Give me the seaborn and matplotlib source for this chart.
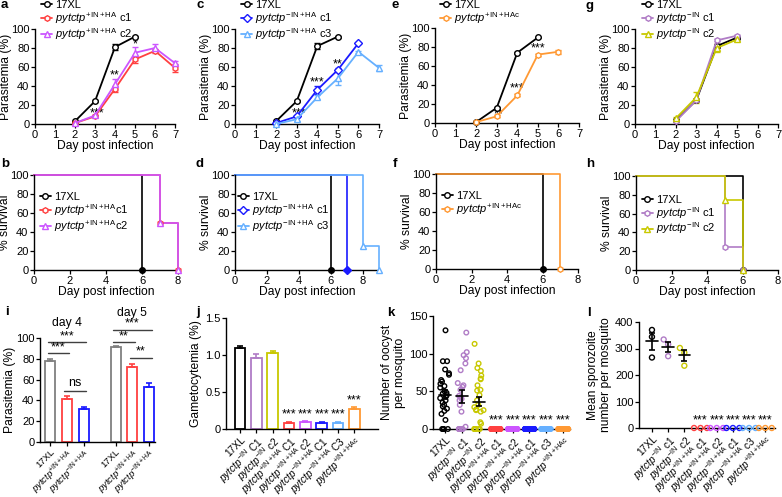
import numpy as np
import pandas as pd
import matplotlib
matplotlib.use("Agg")
import matplotlib.pyplot as plt
from matplotlib.lines import Line2D
import seaborn as sns

# ---------------- data ----------------
# a: parasitemia, 17XL vs pytctp+IN+HA clones
a_days_wt = [2, 3, 4, 5]
a_wt = [3, 24, 81, 92]
a_wt_err = [0.5, 1, 3, 1]
a_days = [2, 3, 4, 5, 6, 7]
a_c1 = [1, 8, 37, 68, 77, 59]
a_c1_err = [0.5, 1, 3, 4, 2, 4]
a_c2 = [1, 9, 42, 75, 80, 64]
a_c2_err = [0.5, 1, 5, 6, 4, 2]
# c: 17XL vs pytctp-IN+HA clones
c_days_wt = [2, 3, 4, 5]
c_wt = [3, 24, 82, 92]
c_wt_err = [0.5, 1, 3, 1]
c_days_c1 = [2, 3, 4, 5, 6]
c_c1 = [1, 8, 36, 57, 85]
c_c1_err = [0.5, 1, 4, 2, 1]
c_days_c3 = [2, 3, 4, 5, 6, 7]
c_c3 = [0, 5, 28, 48, 76, 59]
c_c3_err = [0.5, 2, 2, 7, 1, 3]
# e: 17XL vs pytctp+IN+HAc
e_days_wt = [2, 3, 4, 5]
e_wt = [1, 16, 74, 90]
e_wt_err = [0.3, 1, 1, 1]
e_days_hac = [2, 3, 4, 5, 6]
e_hac = [1, 7, 29, 72, 75]
e_hac_err = [0.3, 1, 1, 1, 2]
# g: 17XL vs pytctp-IN clones
g_days = [2, 3, 4, 5]
g_wt = [4, 25, 82, 91]
g_wt_err = [0.5, 1, 2, 1]
g_c1 = [3, 25, 88, 93]
g_c1_err = [0.5, 1, 1, 1]
g_c2 = [6, 28, 80, 89]
g_c2_err = [1, 6, 4, 2]

# survival curves (day, % survival)
b_wt_t, b_wt_s = [0, 6], [100, 0]
b_c1_t, b_c1_s = [0, 7, 8], [100, 50, 0]
b_c2_t, b_c2_s = [0, 7, 8], [100, 50, 0]
d_wt_t, d_wt_s = [0, 6], [100, 0]
d_c1_t, d_c1_s = [0, 7], [100, 0]
d_c3_t, d_c3_s = [0, 8, 9], [100, 25, 0]
f_wt_t, f_wt_s = [0, 6], [100, 0]
f_hac_t, f_hac_s = [0, 7], [100, 0]
h_wt_t, h_wt_s = [0, 6], [100, 0]
h_c1_t, h_c1_s = [0, 5, 6], [100, 25, 0]
h_c2_t, h_c2_s = [0, 5, 6], [100, 75, 0]

# i: parasitemia day 4 / day 5
i_groups = ["17XL", "+IN+HA", "-IN+HA", "17XL", "+IN+HA", "-IN+HA"]
i_pos = [0, 1, 2, 3.9, 4.9, 5.9]
i_vals = [78, 41, 32, 91, 72, 53]
i_err = [2, 3, 2, 1, 3, 4]

# j: gametocytemia
strains = ["17XL", "-IN c1", "-IN c2", "+IN+HA c1", "+IN+HA c2",
           "-IN+HA c1", "-IN+HA c3", "+IN+HAc"]
j_vals = [1.10, 0.96, 1.03, 0.08, 0.09, 0.08, 0.08, 0.27]
j_err = [0.02, 0.05, 0.03, 0.02, 0.02, 0.02, 0.02, 0.03]

# k: oocysts per mosquito
k_wt = [131, 90, 90, 79, 74, 72, 65, 63, 60, 57, 55, 50, 48, 47, 45, 43, 41,
        38, 35, 32, 30, 27, 24, 20, 12, 0, 0, 0, 0]
k_in_c1 = [128, 102, 98, 94, 87, 78, 61, 58, 56, 52, 44, 42, 40, 38, 32, 23,
           3, 0, 0, 0, 0, 0, 0, 0]
k_in_c2 = [113, 87, 81, 77, 71, 67, 66, 58, 52, 51, 45, 38, 32, 29, 26, 25,
           25, 23, 9, 7, 0, 0, 0, 0, 0, 0, 0]
k_zero = [0] * 40

# l: sporozoites per mosquito
l_wt = [370, 344, 266]
l_in_c1 = [334, 316, 271]
l_in_c2 = [302, 284, 235]
l_zero = [0, 0, 0]

# ---------------- style ----------------
sns.set_theme(style="ticks")
plt.rcParams["font.family"] = ["Liberation Sans", "DejaVu Sans"]
plt.rcParams["mathtext.fontset"] = "custom"
plt.rcParams["mathtext.rm"] = "Liberation Sans"
plt.rcParams["mathtext.it"] = "Liberation Sans:italic"
plt.rcParams["mathtext.bf"] = "Liberation Sans:bold"
for key in ["axes.edgecolor", "xtick.color", "ytick.color",
            "axes.labelcolor", "text.color"]:
    plt.rcParams[key] = "black"

FS_TICK = 8
FS_LABEL = 8.7
FS_LEG = 8
FS_CAT = 7.3
FS_CAT_I = 6.8
FS_STAR = 9

BLACK = "#000000"
RED = "#FF4040"
VIOLET = "#CC55FF"
BLUE = "#1A1AFF"
LBLUE = "#66B0FF"
ORANGE = "#FF9933"
MAUVE = "#B07CC6"
YELLOW = "#C8C800"
GRAY = "#808080"

strain_colors = [BLACK, MAUVE, YELLOW, RED, VIOLET, BLUE, LBLUE, ORANGE]


def lab(sup, suffix=""):
    return r"$\mathit{pytctp}^{\mathrm{" + sup + "}}$" + suffix


W, H = 782, 497
fig = plt.figure(figsize=(W / 100, H / 100), dpi=100)


def px_axes(l, t, r, b):
    return fig.add_axes([l / W, 1 - b / H, (r - l) / W, (b - t) / H])


def finish(ax):
    sns.despine(ax=ax)
    for sp in ["left", "bottom"]:
        ax.spines[sp].set_linewidth(1.0)
        ax.spines[sp].set_color("black")
    ax.tick_params(length=3, width=0.9, pad=1, labelsize=FS_TICK)


def growth_series(ax, days, vals, errs, color, marker):
    ax.errorbar(days, vals, yerr=errs, fmt="none", ecolor=color, elinewidth=1,
                capsize=2, capthick=1, zorder=3, clip_on=False)
    sns.lineplot(x=days, y=vals, ax=ax, color=color, marker=marker,
                 markersize=4, markerfacecolor="white", markeredgecolor=color,
                 markeredgewidth=1, linewidth=1.3, zorder=4, clip_on=False)


def growth_axes(ax):
    ax.set_xlim(0, 7)
    ax.set_ylim(0, 100)
    ax.set_xticks(range(8))
    ax.set_yticks([0, 20, 40, 60, 80, 100])
    ax.set_xlabel("Day post infection", labelpad=0, fontsize=FS_LABEL)
    ax.set_ylabel("Parasitemia (%)", labelpad=-0.5, fontsize=FS_LABEL)
    finish(ax)


def surv_series(ax, t, s, color, marker, mfc="white"):
    sns.lineplot(x=t, y=s, ax=ax, color=color, drawstyle="steps-post",
                 linewidth=1.2, clip_on=False)
    ax.plot(t[1:], s[1:], linestyle="none", marker=marker, ms=4, mfc=mfc,
            mec=color, mew=1, clip_on=False, zorder=5)


def surv_axes(ax, xmax):
    ax.set_xlim(0, xmax)
    ax.set_ylim(0, 100)
    ax.set_xticks([0, 2, 4, 6, 8])
    ax.set_yticks([0, 20, 40, 60, 80, 100])
    ax.set_xlabel("Day post infection", labelpad=0, fontsize=FS_LABEL)
    ax.set_ylabel("% survival", labelpad=-0.5, fontsize=FS_LABEL)
    finish(ax)


def handle(color, marker):
    return Line2D([], [], color=color, marker=marker, ms=4, mfc="white",
                  mec=color, mew=1, lw=1.3)


LEG_KW = dict(frameon=False, fontsize=FS_LEG, handlelength=1.0,
              handletextpad=0.3, labelspacing=0.0, borderpad=0,
              borderaxespad=0)


def fig_legend(handles, labels, x, y):
    fig.legend(handles, labels, loc="upper left",
               bbox_to_anchor=(x / W, 1 - y / H), **LEG_KW)


def stars(ax, x, y, s):
    ax.text(x, y, s, ha="center", va="center", fontsize=FS_STAR,
            clip_on=False)


# ---------------- a ----------------
ax = px_axes(35, 29, 175, 124)
growth_series(ax, a_days_wt, a_wt, a_wt_err, BLACK, "o")
growth_series(ax, a_days, a_c1, a_c1_err, RED, "h")
growth_series(ax, a_days, a_c2, a_c2_err, VIOLET, "^")
stars(ax, 3.1, 11, "***")
stars(ax, 4.0, 51, "**")
stars(ax, 5.0, 84, "*")
growth_axes(ax)
fig_legend([handle(BLACK, "o"), handle(RED, "h"), handle(VIOLET, "^")],
           ["17XL", lab("+IN+HA", " c1"), lab("+IN+HA", " c2")], 41, 0)

# ---------------- c ----------------
ax = px_axes(235, 29, 379, 124)
growth_series(ax, c_days_wt, c_wt, c_wt_err, BLACK, "o")
growth_series(ax, c_days_c1, c_c1, c_c1_err, BLUE, "D")
growth_series(ax, c_days_c3, c_c3, c_c3_err, LBLUE, "^")
stars(ax, 3.1, 11, "***")
stars(ax, 4.0, 44, "***")
stars(ax, 5.0, 63, "**")
growth_axes(ax)
fig_legend([handle(BLACK, "o"), handle(BLUE, "D"), handle(LBLUE, "^")],
           ["17XL", lab("-IN+HA", " c1"), lab("-IN+HA", " c3")], 241, 0)

# ---------------- e ----------------
ax = px_axes(435, 28, 579, 123)
growth_series(ax, e_days_wt, e_wt, e_wt_err, BLACK, "o")
growth_series(ax, e_days_hac, e_hac, e_hac_err, ORANGE, "h")
stars(ax, 3.1, 9, "**")
stars(ax, 4.0, 36, "***")
stars(ax, 5.0, 79, "***")
growth_axes(ax)
fig_legend([handle(BLACK, "o"), handle(ORANGE, "h")],
           ["17XL", lab("+IN+HAc")], 440, 0)

# ---------------- g ----------------
ax = px_axes(635, 29, 778, 124)
growth_series(ax, g_days, g_wt, g_wt_err, BLACK, "o")
growth_series(ax, g_days, g_c1, g_c1_err, MAUVE, "h")
growth_series(ax, g_days, g_c2, g_c2_err, YELLOW, "^")
growth_axes(ax)
fig_legend([handle(BLACK, "o"), handle(MAUVE, "h"), handle(YELLOW, "^")],
           ["17XL", lab("-IN", " c1"), lab("-IN", " c2")], 642, 0)

# ---------------- b ----------------
ax = px_axes(34, 175, 178, 270)
surv_series(ax, b_wt_t, b_wt_s, BLACK, "o", BLACK)
surv_series(ax, b_c1_t, b_c1_s, RED, "h")
surv_series(ax, b_c2_t, b_c2_s, VIOLET, "^")
surv_axes(ax, 8)
ax.legend([handle(BLACK, "o"), handle(RED, "h"), handle(VIOLET, "^")],
          ["17XL", lab("+IN+HA", "c1"), lab("+IN+HA", "c2")],
          loc="upper left", bbox_to_anchor=(0.04, 0.82), **LEG_KW)

# ---------------- d ----------------
ax = px_axes(235, 175, 379, 270)
surv_series(ax, d_wt_t, d_wt_s, BLACK, "o", BLACK)
surv_series(ax, d_c1_t, d_c1_s, BLUE, "D", BLUE)
surv_series(ax, d_c3_t, d_c3_s, LBLUE, "^")
surv_axes(ax, 9)
ax.legend([handle(BLACK, "o"), handle(BLUE, "D"), handle(LBLUE, "^")],
          ["17XL", lab("-IN+HA", " c1"), lab("-IN+HA", " c3")],
          loc="upper left", bbox_to_anchor=(0.02, 0.82), **LEG_KW)

# ---------------- f ----------------
ax = px_axes(436, 174, 578, 269)
surv_series(ax, f_wt_t, f_wt_s, BLACK, "o", BLACK)
surv_series(ax, f_hac_t, f_hac_s, ORANGE, "h")
surv_axes(ax, 8)
ax.legend([handle(BLACK, "o"), handle(ORANGE, "h")],
          ["17XL", lab("+IN+HAc")],
          loc="upper left", bbox_to_anchor=(0.04, 0.82), **LEG_KW)

# ---------------- h ----------------
ax = px_axes(636, 176, 778, 270)
surv_series(ax, h_wt_t, h_wt_s, BLACK, "o", BLACK)
surv_series(ax, h_c1_t, h_c1_s, MAUVE, "h")
surv_series(ax, h_c2_t, h_c2_s, YELLOW, "^")
surv_axes(ax, 8)
ax.legend([handle(BLACK, "o"), handle(MAUVE, "h"), handle(YELLOW, "^")],
          ["17XL", lab("-IN", " c1"), lab("-IN", " c2")],
          loc="upper left", bbox_to_anchor=(0.04, 0.8), **LEG_KW)

# ---------------- i ----------------
ax = px_axes(40, 338, 155, 442)
i_palette = {"17XL": GRAY, "+IN+HA": RED, "-IN+HA": BLUE}
sns.barplot(x=i_pos, y=i_vals, hue=i_groups, palette=i_palette,
            native_scale=True, fill=False, width=0.6, errorbar=None,
            legend=False, ax=ax)
for p in ax.patches:
    p.set_linewidth(1.3)
for xp, v, e, g in zip(i_pos, i_vals, i_err, i_groups):
    ax.errorbar([xp], [v], yerr=[[0], [e]], fmt="none", ecolor=i_palette[g],
                elinewidth=1.2, capsize=2.5, capthick=1.2)
sig_lines = [(0, 1, 85.5, "***"), (0, 2, 96, "***"), (1, 2, 49, "ns"),
             (3.9, 4.9, 96, "**"), (3.9, 5.9, 108, "***"),
             (4.9, 5.9, 81, "**")]
for x1, x2, yv, s in sig_lines:
    ax.plot([x1 - 0.15, x2 + 0.15], [yv, yv], color="#404040", lw=1,
            clip_on=False)
    ax.text((x1 + x2) / 2, yv + (1.5 if s == "ns" else 0.0), s, ha="center",
            va="bottom", fontsize=FS_STAR, clip_on=False)
ax.text(1, 114, "day 4", ha="center", va="center", fontsize=FS_LABEL)
ax.text(4.9, 124, "day 5", ha="center", va="center", fontsize=FS_LABEL)
ax.set_xlim(-0.6, 6.25)
ax.set_ylim(0, 100)
ax.set_yticks([0, 20, 40, 60, 80, 100])
ax.set_xticks(i_pos)
ax.set_xticklabels(["17XL", lab("+IN+HA"), lab("-IN+HA")] * 2, rotation=45,
                   ha="right", rotation_mode="anchor")
ax.set_xlabel("")
ax.set_ylabel("Parasitemia (%)", labelpad=0, fontsize=FS_LABEL)
finish(ax)
ax.tick_params(axis="x", labelsize=FS_CAT_I)

# ---------------- j ----------------
ax = px_axes(226, 318, 378, 429)
sns.barplot(x=strains, y=j_vals, hue=strains, palette=strain_colors,
            order=strains, hue_order=strains, fill=False, width=0.65,
            errorbar=None, legend=False, ax=ax)
for p in ax.patches:
    p.set_linewidth(1.3)
for k_, (v, e) in enumerate(zip(j_vals, j_err)):
    ax.errorbar([k_], [v], yerr=[[0], [e]], fmt="none",
                ecolor=strain_colors[k_], elinewidth=1.2, capsize=2.5,
                capthick=1.2)
    if k_ >= 3:
        ax.text(k_, v + e + 0.01, "***", ha="center", va="bottom",
                fontsize=FS_STAR)
ax.set_xlim(-0.85, 8.45)
ax.set_ylim(0, 1.5)
ax.set_yticks([0, 0.5, 1.0, 1.5])
ax.set_yticklabels(["0", "0.5", "1.0", "1.5"])
ax.set_xticks(range(8))
ax.set_xticklabels(["17XL", lab("-IN", " C1"), lab("-IN", " c2"),
                    lab("+IN+HA", " C1"), lab("+IN+HA", " c2"),
                    lab("-IN+HA", " C1"), lab("-IN+HA", " C3"),
                    lab("+IN+HAc")], rotation=45, ha="right",
                   rotation_mode="anchor")
ax.set_xlabel("")
ax.set_ylabel("Gametocytemia (%)", labelpad=2, fontsize=FS_LABEL)
finish(ax)
ax.tick_params(axis="x", labelsize=FS_CAT)

strain_ticklabels = ["17XL", lab("-IN", " c1"), lab("-IN", " c2"),
                     lab("+IN+HA", " c1"), lab("+IN+HA", " c2"),
                     lab("-IN+HA", " c1"), lab("-IN+HA", " c3"),
                     lab("+IN+HAc")]

# ---------------- k ----------------
ax = px_axes(433, 316, 570, 429)
k_lists = [k_wt, k_in_c1, k_in_c2, k_zero, k_zero, k_zero, k_zero, k_zero]
k_df = pd.DataFrame({
    "strain": [s for s, vals in zip(strains, k_lists) for _ in vals],
    "n": [v for vals in k_lists for v in vals],
})
np.random.seed(3)
sns.stripplot(data=k_df, x="strain", y="n", hue="strain", order=strains,
              hue_order=strains, palette=strain_colors, jitter=0.3, size=3.3,
              legend=False, ax=ax, zorder=3)
for coll in ax.collections:
    fc = coll.get_facecolors()
    coll.set_edgecolors(fc)
    coll.set_facecolors("none")
    coll.set_linewidth(1.0)
    coll.set_clip_on(False)
for k_, vals in enumerate(k_lists[:3]):
    m = np.mean(vals)
    se = np.std(vals, ddof=1) / np.sqrt(len(vals))
    ax.plot([k_ - 0.35, k_ + 0.35], [m, m], color="black", lw=1.2, zorder=4)
    ax.errorbar([k_], [m], yerr=[se], fmt="none", ecolor="black",
                elinewidth=1.2, capsize=2.5, capthick=1.2, zorder=4)
for k_ in range(3, 8):
    stars(ax, k_, 12, "***")
ax.set_xlim(-0.71, 7.4)
ax.set_ylim(0, 150)
ax.set_yticks([0, 50, 100, 150])
ax.set_xticks(range(8))
ax.set_xticklabels(strain_ticklabels, rotation=45, ha="right",
                   rotation_mode="anchor")
ax.set_xlabel("")
ax.set_ylabel("Number of oocyst\nper mosquito", labelpad=2, linespacing=1.1,
              fontsize=FS_LABEL)
finish(ax)
ax.tick_params(axis="x", labelsize=FS_CAT)

# ---------------- l ----------------
ax = px_axes(639, 322, 775, 428)
l_lists = [l_wt, l_in_c1, l_in_c2, l_zero, l_zero, l_zero, l_zero, l_zero]
l_df = pd.DataFrame({
    "strain": [s for s, vals in zip(strains, l_lists) for _ in vals],
    "n": [v for vals in l_lists for v in vals],
})
sns.swarmplot(data=l_df, x="strain", y="n", hue="strain", order=strains,
              hue_order=strains, palette=strain_colors, size=3.6,
              legend=False, ax=ax, zorder=3)
for coll in ax.collections:
    fc = coll.get_facecolors()
    coll.set_edgecolors(fc)
    coll.set_facecolors("none")
    coll.set_linewidth(1.0)
    coll.set_clip_on(False)
for k_, vals in enumerate(l_lists[:3]):
    m = np.mean(vals)
    se = np.std(vals, ddof=1) / np.sqrt(len(vals))
    ax.plot([k_ - 0.35, k_ + 0.35], [m, m], color="black", lw=1.2, zorder=4)
    ax.errorbar([k_], [m], yerr=[se], fmt="none", ecolor="black",
                elinewidth=1.2, capsize=2.5, capthick=1.2, zorder=4)
for k_ in range(3, 8):
    stars(ax, k_, 28, "***")
ax.set_xlim(-0.8, 7.6)
ax.set_ylim(0, 400)
ax.set_yticks([0, 100, 200, 300, 400])
ax.set_xticks(range(8))
ax.set_xticklabels(strain_ticklabels, rotation=45, ha="right",
                   rotation_mode="anchor")
ax.set_xlabel("")
ax.set_ylabel("Mean sporozoite\nnumber per mosquito", labelpad=2,
              linespacing=1.1, fontsize=FS_LABEL)
finish(ax)
ax.tick_params(axis="x", labelsize=FS_CAT)

# ---------------- panel letters ----------------
letters = [("a", 4, 5), ("c", 200, 5), ("e", 395, 5), ("g", 590, 6),
           ("b", 5, 164), ("d", 200, 164), ("f", 395, 164), ("h", 590, 164),
           ("i", 7, 312), ("j", 198, 312), ("k", 391, 313), ("l", 589, 313)]
for s, x, y in letters:
    fig.text(x / W, 1 - y / H, s, fontsize=9.5, fontweight="bold",
             ha="center", va="center")

fig.savefig("out.png", dpi=100)
